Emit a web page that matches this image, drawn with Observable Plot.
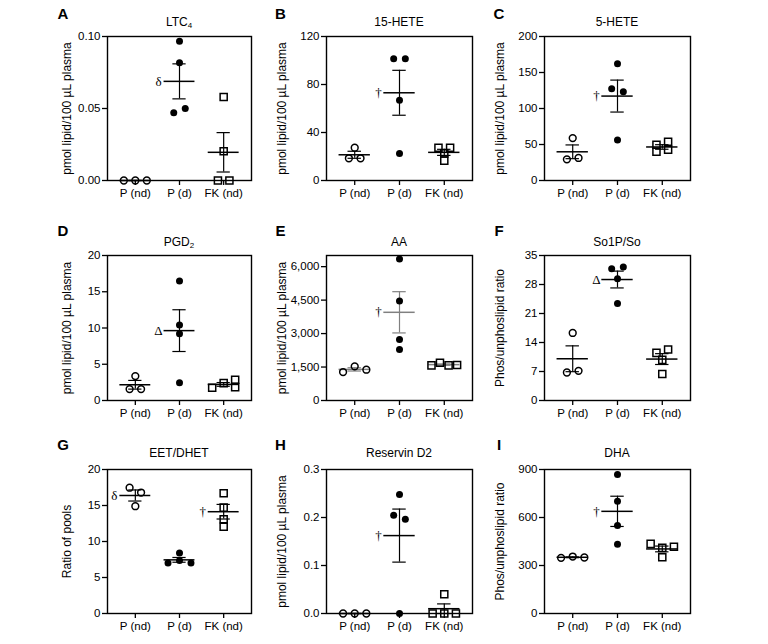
<!DOCTYPE html>
<html><head><meta charset="utf-8">
<script src="https://cdn.jsdelivr.net/npm/d3@7"></script>
<script src="https://cdn.jsdelivr.net/npm/@observablehq/plot@0.6"></script>
<style>
body{margin:0;background:#fff;}
#fig{position:relative;width:768px;height:644px;font-family:"Liberation Sans",Arial,sans-serif;color:#000;overflow:hidden;}
.panel{position:absolute;}
.title{position:absolute;font-size:12px;transform:translate(-50%,-50%);white-space:nowrap;}
.letter{position:absolute;font-size:15px;font-weight:bold;transform:translate(-50%,-50%);}
sub{font-size:8px;vertical-align:-2px;line-height:0;}
</style></head><body><div id="fig"></div>
<script>
const groups = ["P (nd)", "P (d)", "FK (nd)"];

// values per group [P (nd), P (d), FK (nd)] and horizontal scatter slots
const ltc4 = [[0, 0, 0], [0.0967, 0.0817, 0.047, 0.050], [0.058, 0.0203, 0, 0]];
const ltc4Slots = [[-1, 0, 1], [0, 0, -0.5, 0.5], [0, 0, -0.5, 0.5]];

const hete15 = [[27.3, 18.5, 18.5], [101.5, 101.5, 66.8, 22.6], [27.3, 27.3, 22.6, 16.6]];
const hete15Slots = [[0, -0.5, 0.5], [-0.5, 0.5, 0, 0], [-0.5, 0.5, 0, 0]];

const hete5 = [[58.9, 29.4, 31.3], [162.3, 127.4, 123.2, 56.1], [49.7, 40, 53.8, 42.8]];
const hete5Slots = [[0, -0.5, 0.5], [0, -0.5, 0.5, 0], [-0.5, -0.5, 0.5, 0.5]];

const pgd2 = [[3.37, 1.57, 1.57], [16.5, 10.4, 9.2, 2.45], [1.76, 2.4, 2.86, 1.85]];
const pgd2Slots = [[0, -0.5, 0.5], [0, 0, 0, 0], [-1, 0, 1, 1]];

const aa = [[1275, 1530, 1380], [6345, 4455, 2732, 2282], [1575, 1695, 1575, 1590]];
const aaSlots = [[-1, 0, 1], [0, 0, 0, 0], [-1.1, -0.37, 0.37, 1.1]];

const so1p = [[16.3, 6.76, 7.16], [31.8, 32.2, 29.4, 23.4], [11.5, 12.3, 9.8, 6.4]];
const so1pSlots = [[0, -0.5, 0.5], [-0.5, 0.5, 0, 0], [-0.5, 0.5, 0, 0]];

const eet = [[17.47, 16.8, 14.9], [8.41, 7.0, 7.36, 7.03], [16.7, 14.7, 13.1, 12.05]];
const eetSlots = [[-0.5, 0.5, 0], [0, -1, 0, 1], [0, 0, 0, 0]];

const resD2 = [[0, 0, 0], [0.2479, 0.2048, 0.1965, 0], [0, 0, 0, 0.040]];
const resD2Slots = [[-1, 0, 1], [0, -0.5, 0.5, 0], [-1, 0, 1, 0]];

const dha = [[348, 356, 350], [869, 702, 550, 433], [435, 410, 417, 352]];
const dhaSlots = [[-1, 0, 1], [0, 0, 0, 0], [-1, 0, 1, 0]];

const yLabelPlasma = "pmol lipid/100 µL plasma";
const yLabelRatio = "Phos/unphoslipid ratio";
const yLabelPools = "Ratio of pools";

const panels = [
  {letter: "A", title: "LTC<sub>4</sub>", ylabel: yLabelPlasma, values: ltc4, slots: ltc4Slots, yMax: 0.10, ticks: [0, 0.05, 0.10], fmt: ".2f", notes: [[1, "δ"]]},
  {letter: "B", title: "15-HETE", ylabel: yLabelPlasma, values: hete15, slots: hete15Slots, yMax: 120, ticks: [0, 40, 80, 120], fmt: "d", notes: [[1, "†"]]},
  {letter: "C", title: "5-HETE", ylabel: yLabelPlasma, values: hete5, slots: hete5Slots, yMax: 200, ticks: [0, 50, 100, 150, 200], fmt: "d", notes: [[1, "†"]]},
  {letter: "D", title: "PGD<sub>2</sub>", ylabel: yLabelPlasma, values: pgd2, slots: pgd2Slots, yMax: 20, ticks: [0, 5, 10, 15, 20], fmt: "d", notes: [[1, "Δ"]]},
  {letter: "E", title: "AA", ylabel: yLabelPlasma, values: aa, slots: aaSlots, yMax: 6500, ticks: [0, 1500, 3000, 4500, 6000], fmt: ",", notes: [[1, "†"]], statColor: "#808080"},
  {letter: "F", title: "So1P/So", ylabel: yLabelRatio, values: so1p, slots: so1pSlots, yMax: 35, ticks: [0, 7, 14, 21, 28, 35], fmt: "d", notes: [[1, "Δ"]]},
  {letter: "G", title: "EET/DHET", ylabel: yLabelPools, values: eet, slots: eetSlots, yMax: 20, ticks: [0, 5, 10, 15, 20], fmt: "d", notes: [[0, "δ"], [2, "†"]]},
  {letter: "H", title: "Reservin D2", ylabel: yLabelPlasma, values: resD2, slots: resD2Slots, yMax: 0.3, ticks: [0, 0.1, 0.2, 0.3], fmt: ".1f", notes: [[1, "†"]]},
  {letter: "I", title: "DHA", ylabel: yLabelRatio, values: dha, slots: dhaSlots, yMax: 900, ticks: [0, 300, 600, 900], fmt: "d", notes: [[1, "†"]]}
];

// layout (frame boxes)
const rows = [{top: 36, bottom: 180, titleY: 21.5, letterY: 13}, {top: 255, bottom: 400, titleY: 241.5, letterY: 229.5}, {top: 469, bottom: 613, titleY: 453, letterY: 443.5}];
const cols = [{left: 107, right: 251, letterX: 63, labelOffset: 45}, {left: 326, right: 472, letterX: 280.5, labelOffset: 49}, {left: 544, right: 690, letterX: 499, labelOffset: 49}];

const fig = document.getElementById("fig");
const font = "'Liberation Sans', Arial, sans-serif";

panels.forEach((p, idx) => {
  const R = rows[Math.floor(idx / 3)], C = cols[idx % 3];
  const mL = 70, mT = 12, mR = 14, mB = 34;
  const fw = C.right - C.left, fh = R.bottom - R.top;
  const pts = [];
  p.values.forEach((vals, g) => vals.forEach((v, j) => pts.push({g, v, s: p.slots[g][j]})));
  const stats = p.values.map((vals, g) => {
    const m = d3.mean(vals);
    const sem = vals.length > 1 ? d3.deviation(vals) / Math.sqrt(vals.length) : 0;
    return {g, mean: m, lo: m - sem, hi: m + sem};
  });
  const notes = p.notes.map(([g, t]) => ({g, t, mean: stats[g].mean}));
  const sc = p.statColor || "#000";
  const slotW = 0.26, capW = 0.15, meanW = 0.35;
  const svg = Plot.plot({
    width: mL + fw + mR, height: mT + fh + mB,
    marginLeft: mL, marginTop: mT, marginRight: mR, marginBottom: mB,
    style: {background: "transparent", overflow: "visible", fontFamily: font, fontSize: "11.5px", color: "#000"},
    x: {type: "linear", domain: [-0.63, 2.63]},
    y: {domain: [0, p.yMax]},
    marks: [
      Plot.axisX({ticks: [0, 1, 2], tickFormat: i => groups[i], tickSize: 5, tickPadding: 3, label: null, strokeWidth: 1.3, fontSize: 11.5, fill: "#000"}),
      Plot.axisY({ticks: p.ticks, tickFormat: d3.format(p.fmt), tickSize: 5, tickPadding: 2, label: null, strokeWidth: 1.3, fontSize: 11.5, fill: "#000"}),
      Plot.axisY({ticks: [], label: p.ylabel, labelAnchor: "center", labelArrow: "none", labelOffset: C.labelOffset, fontSize: 12, fill: "#000"}),
      Plot.ruleX(stats, {x: "g", y1: "lo", y2: "hi", stroke: sc, strokeWidth: 1.2}),
      Plot.ruleY(stats, {y: "hi", x1: d => d.g - capW, x2: d => d.g + capW, stroke: sc, strokeWidth: 1.2}),
      Plot.ruleY(stats, {y: "lo", x1: d => d.g - capW, x2: d => d.g + capW, stroke: sc, strokeWidth: 1.2}),
      Plot.ruleY(stats, {y: "mean", x1: d => d.g - meanW, x2: d => d.g + meanW, stroke: sc, strokeWidth: 1.5}),
      Plot.frame({stroke: "#000", strokeWidth: 1.4}),
      Plot.dot(pts.filter(d => d.g === 0), {x: d => d.g + d.s * slotW, y: "v", symbol: "circle", r: 3.4, fill: "none", stroke: "#000", strokeWidth: 1.5}),
      Plot.dot(pts.filter(d => d.g === 1), {x: d => d.g + d.s * slotW, y: "v", symbol: "circle", r: 3.5, fill: "#000", stroke: "none"}),
      Plot.dot(pts.filter(d => d.g === 2), {x: d => d.g + d.s * slotW, y: "v", symbol: "square", r: 4, fill: "none", stroke: "#000", strokeWidth: 1.5}),
      Plot.text(notes, {x: "g", y: "mean", text: "t", dx: -21, fill: "#000", fontFamily: "'Liberation Serif', 'Times New Roman', serif", fontSize: 13})
    ]
  });
  const div = document.createElement("div");
  div.className = "panel";
  div.style.left = (C.left - mL) + "px";
  div.style.top = (R.top - mT) + "px";
  div.style.width = (mL + fw + mR) + "px";
  div.appendChild(svg);
  fig.appendChild(div);

  const t = document.createElement("div");
  t.className = "title";
  t.innerHTML = p.title;
  t.style.left = ((C.left + C.right) / 2) + "px";
  t.style.top = R.titleY + "px";
  fig.appendChild(t);

  const l = document.createElement("div");
  l.className = "letter";
  l.textContent = p.letter;
  l.style.left = C.letterX + "px";
  l.style.top = R.letterY + "px";
  fig.appendChild(l);
});
</script></body></html>
